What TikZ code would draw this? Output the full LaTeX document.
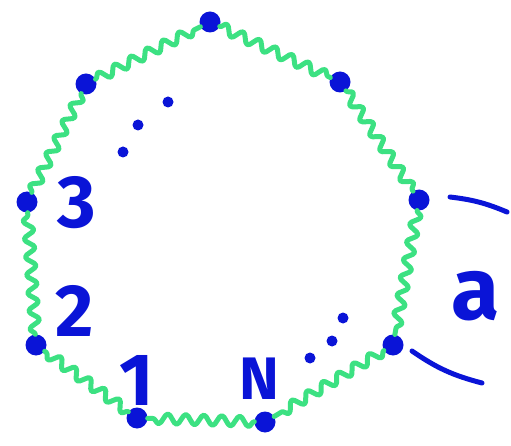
\documentclass[tikz,border=0pt]{standalone}
\usepackage{fontspec}
\setmainfont{Fira Sans}
\usetikzlibrary{decorations.pathmorphing}
\definecolor{inkblue}{RGB}{10,20,215}
\definecolor{springgreen}{RGB}{60,225,130}
\tikzset{
  dot/.style={circle, fill=inkblue, inner sep=0pt, minimum size=21pt},
  smalldot/.style={circle, fill=inkblue, inner sep=0pt, minimum size=11pt},
  wave/.style={draw=springgreen, line width=5pt, line cap=round, line join=round, decorate,
    decoration={snake, segment length=18pt, amplitude=5pt}},
  tick/.style={draw=inkblue, line width=5pt, line cap=round},
  lbl/.style={text=inkblue, font=\bfseries\fontsize{74}{74}\selectfont, inner sep=0pt}
}
\begin{document}
\begin{tikzpicture}[x=1pt,y=-1pt]
\useasboundingbox (0,0) rectangle (511,446);
% ring dots
\node[dot] (p1) at (137,418) {};
\node[dot] (p2) at (36,345) {};
\node[dot] (p3) at (27,202) {};
\node[dot] (q1) at (86,84) {};
\node[dot] (q2) at (210,22) {};
\node[dot] (q3) at (340,82) {};
\node[dot] (r1) at (419,200) {};
\node[dot] (r2) at (393,345) {};
\node[dot] (pn) at (265,422) {};
% springs
\draw[wave] (p1) -- (p2);
\draw[wave] (p2) -- (p3);
\draw[wave] (p3) -- (q1);
\draw[wave] (q1) -- (q2);
\draw[wave] (q2) -- (q3);
\draw[wave] (q3) -- (r1);
\draw[wave] (r1) -- (r2);
\draw[wave] (r2) -- (pn);
\draw[wave] (pn) -- (p1);
% ellipsis dots
\node[smalldot] (e1) at (168,102) {};
\node[smalldot] (e2) at (138,125) {};
\node[smalldot] (e3) at (123,152) {};
\node[smalldot] (f1) at (310,358) {};
\node[smalldot] (f2) at (332,341) {};
\node[smalldot] (f3) at (343,318) {};
% labels
\node[lbl] (l3) at (77,203) {3};
\node[lbl] (l2) at (75,311) {2};
\node[lbl] (l1) at (137,380) {1};
\node[lbl, font=\bfseries\fontsize{60}{60}\selectfont] (ln) at (259,379) {N};
\node[lbl, font=\bfseries\fontsize{88}{88}\selectfont] (la) at (476,296) {a};
% spacing marks
\coordinate (t1a) at (450,197);
\coordinate (t1b) at (507,212);
\coordinate (t2a) at (412,351);
\coordinate (t2b) at (482,383);
\draw[tick] (t1a) to[bend left=8] (t1b);
\draw[tick] (t2a) to[bend right=10] (t2b);
\end{tikzpicture}
\end{document}
